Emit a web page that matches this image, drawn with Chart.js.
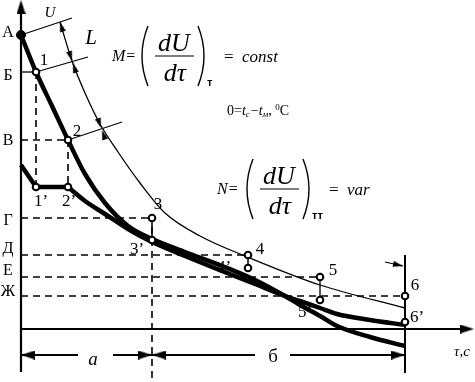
<!DOCTYPE html>
<html><head><meta charset="utf-8">
<script src="https://cdn.jsdelivr.net/npm/chart.js@4.4.0/dist/chart.umd.min.js"></script>
<style>html,body{margin:0;padding:0;background:#fff;overflow:hidden}#wrap{width:475px;height:382px;position:relative}</style>
</head><body><div id="wrap"><canvas id="c" width="475" height="382"></canvas></div>
<script>
// units: x = drying time, y = moisture content U (x-axis at y = 0, U-axis at x = 0)
const thinCurve = [[39,307],[51,268],[64,236],[79,205],[97,177],[119,146],[144,116],[179,93],[229,71],[299,44],[384,21]];
const curveM = [[0,294],[15,257],[31,223],[47,189],[64,155],[84,126],[107,103],[129,91],[164,77],[201,63],[234,49],[264,33],[279,24],[299,13],[316,3],[349,-8],[384,-17]];
const curveNstart = [[0,164],[15,142],[47,142]];
const curveN = [[47,142],[64,128],[84,115],[107,100],[129,88],[164,73],[201,58],[234,45],[264,33],[279,28],[299,21],[316,15],[349,9],[384,4]];
const openPoints = [[15,257],[47,189],[15,142],[47,142],[131,111],[131,89],[227,74],[227,61],[299,52],[299,29],[384,33],[384,7]];
const pointA = [[0,294]];
const levelNames = ['А','Б','В','Г','Д','Е','Ж'];
const levelValues = [294,257,189,111,74,52,33];
const levelEnds = [0,15,47,131,227,299,384];
const timeA = 131, timeEnd = 384;
const pointNames = ['1','2','1’','2’','3','3’','4','4’','5','5’','6','6’'];

const segs = [];
function line(pts, o) {
  segs.push(Object.assign({data: pts.map(([x,y])=>({x,y})), showLine:true, pointRadius:0, borderColor:'#000', backgroundColor:'#000', borderWidth:1.5, tension:0, order:8}, o||{}));
}
// axes
line([[0,-43],[0,322]], {borderWidth:2.2});
line([[0,0],[446,0]], {borderWidth:2.2});
line([[timeEnd,74],[timeEnd,-44]], {borderWidth:2});
line([[timeA,114],[timeA,-53]], {borderDash:[7,5], borderWidth:1.6});
// level lines
for (let i=1;i<levelValues.length;i++){
  line([[0,levelValues[i]],[levelEnds[i],levelValues[i]]], i===1?{borderWidth:1.3}:{borderDash:[7,5], borderWidth:1.6});
}
line([[15,257],[15,142]], {borderDash:[7,5], borderWidth:1.6});
line([[47,189],[47,142]], {borderDash:[7,5], borderWidth:1.6});
line([[131,111],[131,89]], {borderWidth:1.5});
line([[227,74],[227,61]], {borderWidth:1.5});
line([[299,52],[299,29]], {borderWidth:1.3});
// thickness marks
line([[0,294],[51,311]], {borderWidth:1.2});
line([[15,257],[67,272]], {borderWidth:1.2});
line([[47,189],[101,207]], {borderWidth:1.2});
line([[364,67],[382,63]], {borderWidth:1.2});
// dimension line
line([[0,-26],[57,-26]], {borderWidth:1.8});
line([[92,-26],[131,-26]], {borderWidth:1.8});
line([[131,-26],[234,-26]], {borderWidth:1.8});
line([[269,-26],[384,-26]], {borderWidth:1.8});
// curves
line(thinCurve, {borderWidth:1.3, cubicInterpolationMode:'monotone', order:6});
line(curveM, {borderWidth:4.5, cubicInterpolationMode:'monotone', order:5});
line(curveNstart, {borderWidth:4.5, order:5});
line(curveN, {borderWidth:4.5, cubicInterpolationMode:'monotone', order:5});

function arrowImg(len, wid){
  const c=document.createElement('canvas'); c.width=len*2; c.height=wid;
  const g=c.getContext('2d'); g.fillStyle='#000'; g.beginPath();
  g.moveTo(0,0); g.lineTo(len,wid/2); g.lineTo(0,wid); g.closePath(); g.fill(); return c;
}
const bigArrow = arrowImg(14,9), smallArrow = arrowImg(10,6);
const arrows = [
  {tip:[0,329],from:[0,300],big:true},{tip:[453,0],from:[400,0],big:true},
  {tip:[0,-26],from:[50,-26],big:true},{tip:[131,-26],from:[100,-26],big:true},
  {tip:[131,-26],from:[200,-26],big:true},{tip:[384,-26],from:[300,-26],big:true},
  {tip:[382,63],from:[364,67]},{tip:[39,307],from:[43,294]},{tip:[51,268],from:[47,281]},
  {tip:[52,266],from:[56,253]},{tip:[80,201],from:[76,213]},{tip:[81,199],from:[85,187]}
];
segs.push({data: arrows.map(a=>({x:a.tip[0],y:a.tip[1]})), showLine:false, order:1,
  pointStyle: c=>arrows[c.dataIndex] && arrows[c.dataIndex].big?bigArrow:smallArrow,
  pointRotation: c=>{const a=arrows[c.dataIndex]; if(!a) return 0; return Math.atan2(-(a.tip[1]-a.from[1]), a.tip[0]-a.from[0])*180/Math.PI;},
  pointRadius:6});
segs.push({data: openPoints.map(([x,y])=>({x,y})), showLine:false, order:0, pointRadius:3.3, pointBorderWidth:2, pointBackgroundColor:'#fff', pointBorderColor:'#000'});
segs.push({data: pointA.map(([x,y])=>({x,y})), showLine:false, order:0, pointRadius:4.5, pointBackgroundColor:'#000', pointBorderColor:'#000'});

const SERIF = '"Liberation Serif", "DejaVu Serif", serif';
const labels = [
  ...levelNames.map((t,i)=>({t, at:[-13,[296,253,188,108,80,58,37][i]], size:16})),
  ...pointNames.map((t,i)=>({t, at:[[23,268],[56,197],[20,127],[48,127],[137,124],[116,79],[239,79],[203,61],[312,58],[284,16],[394,43],[396,11]][i], size:17})),
  {t:'a', at:[72,-31], size:19, it:true},{t:'б', at:[252,-28], size:19},
  {t:'τ,c', at:[441,-23], size:15, it:true},{t:'U', at:[29,316], size:15, it:true},{t:'L', at:[70,291], size:21, it:true}
];

function runs(ctx, x, y, parts){
  for (const p of parts){ ctx.font = p.f; ctx.fillText(p.t, x, y + (p.dy||0)); x += ctx.measureText(p.t).width + (p.sp||0); }
}
function paren(ctx, x, top, bot, left){
  ctx.beginPath(); const w=7;
  if (left){ ctx.moveTo(x+w, top); ctx.quadraticCurveTo(x-w+2, (top+bot)/2, x+w, bot); }
  else { ctx.moveTo(x, top); ctx.quadraticCurveTo(x+2*w-2, (top+bot)/2, x, bot); }
  ctx.lineWidth=1.4; ctx.stroke();
}
function formula(ctx, x0, yl, lhs, sub, rhs){
  ctx.textBaseline='alphabetic'; ctx.textAlign='left';
  ctx.font='italic 16px '+SERIF; ctx.fillText(lhs, x0, yl+5);
  paren(ctx, x0+29, yl-30, yl+30, true);
  ctx.beginPath(); ctx.moveTo(x0+43, yl); ctx.lineTo(x0+82, yl); ctx.lineWidth=1.2; ctx.stroke();
  ctx.textAlign='center'; ctx.font='italic 26px '+SERIF;
  ctx.fillText('dU', x0+62, yl-5); ctx.fillText('dτ', x0+63, yl+25);
  paren(ctx, x0+86, yl-30, yl+30, false);
  ctx.textAlign='left'; ctx.font='bold 11px "Liberation Sans", sans-serif'; ctx.fillText(sub, x0+95, yl+30);
  ctx.font='17px '+SERIF; ctx.fillText('=', x0+112, yl+6);
  ctx.font='italic 17px '+SERIF; ctx.fillText(rhs, x0+130, yl+6);
}
const textPlugin = {
  id:'texts',
  afterDatasetsDraw(chart){
    const ctx=chart.ctx, sx=chart.scales.x, sy=chart.scales.y;
    ctx.save(); ctx.fillStyle='#000'; ctx.strokeStyle='#000';
    ctx.textAlign='center'; ctx.textBaseline='middle';
    for (const l of labels){
      ctx.font=(l.it?'italic ':'')+l.size+'px '+SERIF;
      ctx.fillText(l.t, sx.getPixelForValue(l.at[0]), sy.getPixelForValue(l.at[1]));
    }
    formula(ctx, sx.getPixelForValue(91), sy.getPixelForValue(273), 'M=', 'т', 'const');
    formula(ctx, sx.getPixelForValue(196), sy.getPixelForValue(140), 'N=', 'тт', 'var');
    ctx.textBaseline='alphabetic'; ctx.textAlign='left';
    const f='14px '+SERIF, fi='italic 14px '+SERIF, fs='italic 9px '+SERIF;
    runs(ctx, sx.getPixelForValue(206), sy.getPixelForValue(214), [
      {t:'0=',f},{t:'t',f:fi},{t:'c',f:fs,dy:2,sp:1},{t:'−',f},{t:'t',f:fi},{t:'м',f:fs,dy:2},{t:', ',f},{t:'0',f:'9px '+SERIF,dy:-5},{t:'C',f}
    ]);
    ctx.restore();
  }
};

new Chart(document.getElementById('c'), {
  type:'scatter',
  data:{datasets:segs},
  options:{
    responsive:false, animation:false, devicePixelRatio:1,
    layout:{padding:0, autoPadding:false},
    plugins:{legend:{display:false}, tooltip:{enabled:false}},
    scales:{
      x:{type:'linear', min:-21, max:454, display:false},
      y:{type:'linear', min:-53, max:329, display:false}
    }
  },
  plugins:[textPlugin]
});
</script>
</body></html>
